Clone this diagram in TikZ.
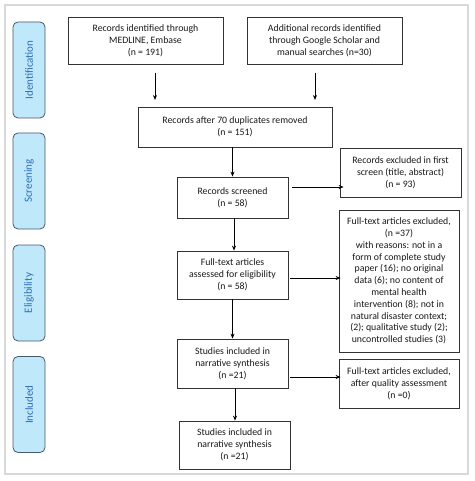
\documentclass[tikz,border=0pt]{standalone}
\usepackage{fontspec}
\setmainfont{Carlito}
\usetikzlibrary{arrows.meta,calc}
\definecolor{sidefill}{HTML}{BFE9FB}
\definecolor{sidedraw}{HTML}{4A5968}
\definecolor{sidetext}{HTML}{2E6DB4}
\definecolor{framegray}{HTML}{D9D9D9}
\begin{document}
\begin{tikzpicture}[x=1pt,y=-1pt,
  flowbox/.style={draw=black!80,line width=0.8pt,fill=white,align=center,
    font=\fontsize{9.8}{11.8}\selectfont,inner sep=2pt,text=black!90},
  sidebox/.style={draw=sidedraw,line width=0.8pt,fill=sidefill,rounded corners=5pt,
    minimum width=32pt,minimum height=96pt},
  sidelabel/.style={text=sidetext,font=\fontsize{11}{12}\selectfont,rotate=90},
  arr/.style={draw=black,line width=0.7pt,-{Stealth[length=5pt,width=4pt]}}]
\useasboundingbox (0,0) rectangle (474,481);
\draw[framegray,line width=1.5pt] (5,5) rectangle (468,474);

% side labels
\node[sidebox] (sid) at (29,70) {};
\node[sidelabel] (sidt) at (sid.center) {Identification};
\node[sidebox] (sscr) at (29,181) {};
\node[sidelabel] (sscrt) at (sscr.center) {Screening};
\node[sidebox] (selg) at (29,293) {};
\node[sidelabel] (selgt) at (selg.center) {Eligibility};
\node[sidebox] (sinc) at (29,404.5) {};
\node[sidelabel] (sinct) at (sinc.center) {Included};

% flow boxes
\node[flowbox,minimum width=155pt,minimum height=47pt] (b1) at (145.5,40.5)
  {Records identified through\\MEDLINE, Embase\\(n = 191)};
\node[flowbox,minimum width=155pt,minimum height=47pt] (b2) at (324.5,40.5)
  {Additional records identified\\through Google Scholar and\\manual searches (n=30)};
\node[flowbox,minimum width=194pt,minimum height=40pt] (b3) at (235,127)
  {Records after 70 duplicates removed\\(n = 151)};
\node[flowbox,minimum width=121pt,minimum height=49pt] (b4) at (400.5,172.5)
  {Records excluded in first\\screen (title, abstract)\\(n = 93)};
\node[flowbox,minimum width=111pt,minimum height=41pt] (b5) at (232.5,197.5)
  {Records screened\\(n = 58)};
\node[flowbox,minimum width=120pt,minimum height=142pt] (b6) at (399,281)
  {Full-text articles excluded,\\(n =37)\\with reasons: not in a\\form of complete study\\paper (16); no original\\data (6); no content of\\mental health\\intervention (8); not in\\natural disaster context;\\(2); qualitative study (2);\\uncontrolled studies (3)};
\node[flowbox,minimum width=111pt,minimum height=48pt] (b7) at (232.5,275)
  {Full-text articles\\assessed for eligibility\\(n = 58)};
\node[flowbox,minimum width=111pt,minimum height=49pt] (b8) at (232.5,363.5)
  {Studies included in\\narrative synthesis\\(n =21)};
\node[flowbox,minimum width=120pt,minimum height=49pt] (b9) at (399,383.5)
  {Full-text articles excluded,\\after quality assessment\\(n =0)};
\node[flowbox,minimum width=111pt,minimum height=48pt] (b10) at (234.5,445)
  {Studies included in\\narrative synthesis\\(n =21)};

% arrows
\coordinate (a1s) at (155,73);
\coordinate (a1e) at (155,100);
\coordinate (a2s) at (315,73);
\coordinate (a2e) at (315,100);
\draw[arr] (a1s) -- (a1e);
\draw[arr] (a2s) -- (a2e);
\draw[arr] (b5.north |- b3.south) -- (b5.north);
\draw[arr] ([shift={(4,-10.5)}]b5.east) -- ([shift={(4,-10.5)}]b5.east -| b4.west);
\draw[arr] ([xshift=1.5pt]b5.south) -- ([xshift=1.5pt]b7.north);
\draw[arr] ([shift={(2,3)}]b7.east) -- ([shift={(2,3)}]b7.east -| b6.west);
\draw[arr] (b7.south) -- (b8.north);
\draw[arr] ([shift={(2,13.5)}]b8.east) -- ([shift={(2,13.5)}]b8.east -| b9.west);
\draw[arr] ([xshift=2.5pt]b8.south) -- ([xshift=0.5pt]b10.north);
\end{tikzpicture}
\end{document}
